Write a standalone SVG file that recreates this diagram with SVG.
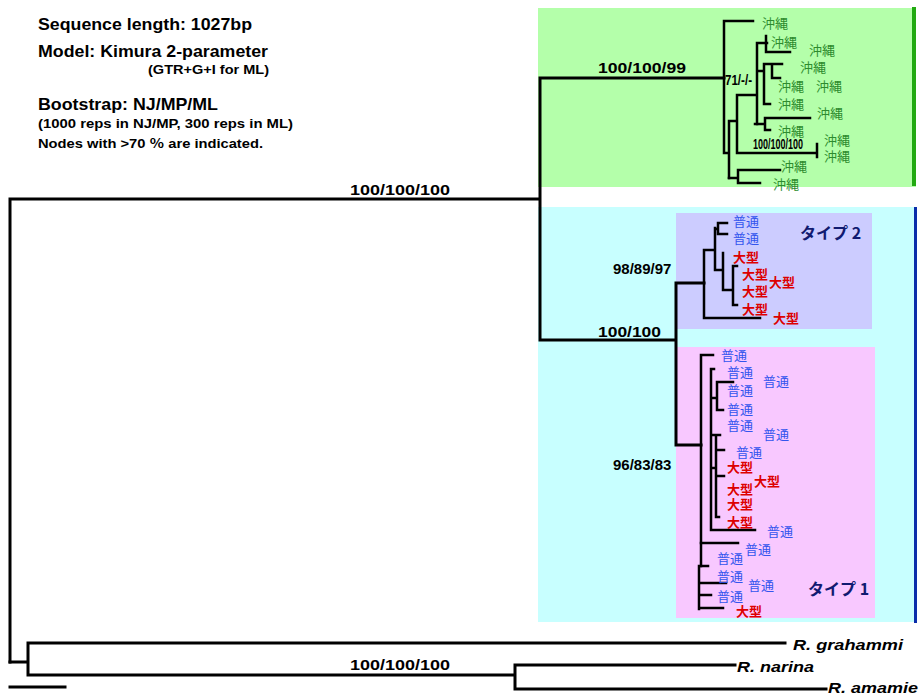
<svg xmlns="http://www.w3.org/2000/svg" width="919" height="693" viewBox="0 0 919 693">
<style>
.hd{font-family:"Liberation Sans","Noto Sans CJK JP",sans-serif;font-weight:bold;fill:#000}
.bs{font-family:"Liberation Sans",sans-serif;font-weight:bold;font-size:15px;fill:#000}
.ok{font-family:"Noto Sans CJK JP",sans-serif;font-size:13px;fill:#2e8b2e}
.fu{font-family:"Noto Sans CJK JP",sans-serif;font-size:13px;fill:#3355ee}
.og{font-family:"Noto Sans CJK JP",sans-serif;font-size:13px;font-weight:bold;fill:#dd0000}
.ty{font-family:"Noto Sans CJK JP",sans-serif;font-size:16px;font-weight:bold;fill:#101a70}
.sp{font-family:"Liberation Sans",sans-serif;font-weight:bold;font-style:italic;font-size:15px;fill:#000}
.ln{stroke:#000;stroke-width:3;fill:none;stroke-linecap:square}
.tn{stroke:#000;stroke-width:2.5;fill:none;stroke-linecap:square}
</style>
<rect width="919" height="693" fill="#fff"/>
<g id="clade-okinawa-bg">
<rect x="538" y="8" width="378" height="179" fill="#b4ffaa"/>
<rect x="912" y="7" width="4" height="179" fill="#22aa11"/>
</g>
<g id="clade-honshu-bg">
<rect x="538" y="207" width="376" height="415" fill="#c8ffff"/>
<rect x="914" y="207" width="3" height="416" fill="#0a2daa"/>
<rect x="676" y="213" width="196" height="116" fill="#ccccff"/>
<rect x="676" y="347" width="199" height="271" fill="#f8c8ff"/>
</g>
<g id="header">
<text class="hd" x="38" y="30" font-size="16.5" textLength="214" lengthAdjust="spacingAndGlyphs">Sequence length: 1027bp</text>
<text class="hd" x="38" y="57" font-size="16.5" textLength="230" lengthAdjust="spacingAndGlyphs">Model: Kimura 2-parameter</text>
<text class="hd" x="148" y="74" font-size="12" textLength="121" lengthAdjust="spacingAndGlyphs">(GTR+G+I for ML)</text>
<text class="hd" x="38" y="110" font-size="16.5" textLength="180" lengthAdjust="spacingAndGlyphs">Bootstrap: NJ/MP/ML</text>
<text class="hd" x="38" y="128" font-size="12.5" textLength="255" lengthAdjust="spacingAndGlyphs">(1000 reps in NJ/MP, 300 reps in ML)</text>
<text class="hd" x="38" y="148" font-size="12.5" textLength="225" lengthAdjust="spacingAndGlyphs">Nodes with &gt;70 ％ are indicated.</text>
</g>
<g id="connectors">
<path class="ln" d="M10 199V662M10 199H540M540 78V340M540 78H724M540 340H676M676 283V445M676 283H704M676 445H701"/>
<path class="ln" d="M10 662H28M28 643V675M28 643H785M28 675H515M515 665V689M515 665H735M515 689H826"/>
<path class="ln" d="M10 687H65"/>
<path class="tn" d="M724 21V153M724 21H753M724 153H729M729 121V178M729 121H737M737 95V153M737 95H756M737 153H816M817 144V157"/>
<path class="tn" d="M757 43V124M757 43H767M766 36V52M766 52H790M757 71H764M764 64V104M764 64H782M772 64V78M772 78H780M764 104H770"/>
<path class="tn" d="M755 124H765M765 118V130M765 118H810M765 130H770"/>
<path class="tn" d="M729 178H738M738 170V183M738 170H780M738 183H760"/>
<path class="tn" d="M704 250V318M704 318H760M704 250H715M715 228V270M715 229H718M718 223V234M718 223H727M718 234H727M715 270H723M723 253V290M723 290H733M733 266V305M733 266H737M733 305H737"/>
<path class="tn" d="M701 355V566M701 355H713M711 369V530M711 530H755M711 369H714M711 398H717M717 382V410M717 382H733M717 410H723M711 435H716M716 435V517M716 435H720M716 450H724M716 476H724M711 468H716M716 517H719"/>
<path class="tn" d="M701 543H738M699 566V609M699 566H708M699 583H726M699 595H711M699 608H723"/>
</g>
<g id="bootstrap-labels">
<text class="bs" x="350" y="195" textLength="100" lengthAdjust="spacingAndGlyphs">100/100/100</text>
<text class="bs" x="598" y="73" textLength="88" lengthAdjust="spacingAndGlyphs">100/100/99</text>
<text class="bs" x="613" y="274" font-size="15.5">98/89/97</text>
<text class="bs" x="598" y="337" textLength="63" lengthAdjust="spacingAndGlyphs">100/100</text>
<text class="bs" x="613" y="470" font-size="15.5">96/83/83</text>
<text class="bs" x="350" y="670" textLength="100" lengthAdjust="spacingAndGlyphs">100/100/100</text>
<text class="bs" x="725" y="85" font-size="10" textLength="27" lengthAdjust="spacingAndGlyphs">71/-/-</text>
<text class="bs" x="753" y="149" font-size="8" textLength="50" lengthAdjust="spacingAndGlyphs">100/100/100</text>
</g>
<g id="tips-okinawa">
<text class="ok" x="762" y="28">沖縄</text>
<text class="ok" x="771" y="47">沖縄</text>
<text class="ok" x="809" y="55">沖縄</text>
<text class="ok" x="800" y="72">沖縄</text>
<text class="ok" x="778" y="91">沖縄</text>
<text class="ok" x="816" y="91">沖縄</text>
<text class="ok" x="778" y="109">沖縄</text>
<text class="ok" x="817" y="118">沖縄</text>
<text class="ok" x="778" y="136">沖縄</text>
<text class="ok" x="824" y="145">沖縄</text>
<text class="ok" x="824" y="161">沖縄</text>
<text class="ok" x="781" y="171">沖縄</text>
<text class="ok" x="773" y="189">沖縄</text>
</g>
<g id="tips-type2">
<text class="fu" x="733" y="226">普通</text>
<text class="fu" x="733" y="243">普通</text>
<text class="og" x="733" y="262">大型</text>
<text class="og" x="742" y="279">大型</text>
<text class="og" x="769" y="287">大型</text>
<text class="og" x="742" y="296">大型</text>
<text class="og" x="742" y="314">大型</text>
<text class="og" x="773" y="323">大型</text>
<text class="ty" x="800" y="239">タイプ 2</text>
</g>
<g id="tips-type1">
<text class="fu" x="721" y="360">普通</text>
<text class="fu" x="727" y="377">普通</text>
<text class="fu" x="763" y="386">普通</text>
<text class="fu" x="727" y="395">普通</text>
<text class="fu" x="727" y="414">普通</text>
<text class="fu" x="727" y="430">普通</text>
<text class="fu" x="763" y="439">普通</text>
<text class="fu" x="736" y="457">普通</text>
<text class="og" x="727" y="472">大型</text>
<text class="og" x="754" y="486">大型</text>
<text class="og" x="727" y="494">大型</text>
<text class="og" x="727" y="509">大型</text>
<text class="og" x="727" y="527">大型</text>
<text class="fu" x="767" y="536">普通</text>
<text class="fu" x="745" y="554">普通</text>
<text class="fu" x="717" y="563">普通</text>
<text class="fu" x="717" y="581">普通</text>
<text class="fu" x="748" y="590">普通</text>
<text class="fu" x="717" y="601">普通</text>
<text class="og" x="736" y="616">大型</text>
<text class="ty" x="808" y="595">タイプ 1</text>
</g>
<g id="outgroups">
<text class="sp" x="793" y="650" textLength="110" lengthAdjust="spacingAndGlyphs">R. grahammi</text>
<text class="sp" x="737" y="672" textLength="77" lengthAdjust="spacingAndGlyphs">R. narina</text>
<text class="sp" x="828" y="693" textLength="90" lengthAdjust="spacingAndGlyphs">R. amamie</text>
</g>
</svg>
